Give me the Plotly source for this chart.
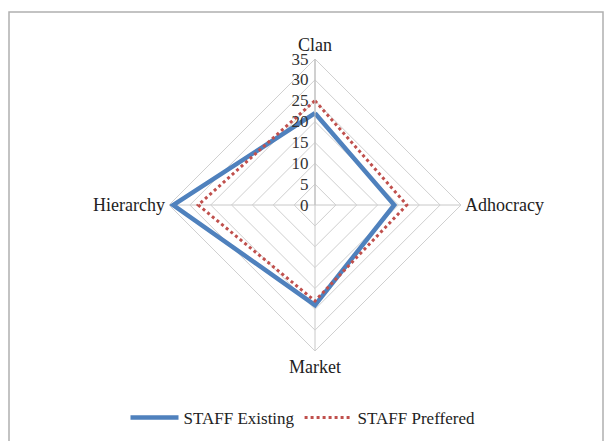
import plotly.graph_objects as go

# Competing Values Framework culture profile for staff
categories = ["Clan", "Adhocracy", "Market", "Hierarchy"]
existing = [22, 19, 24, 34]
preferred = [25, 22, 23, 28]
radial_ticks = [0, 5, 10, 15, 20, 25, 30, 35]

W, H = 606, 441
FONT = "Liberation Serif"


def closed(vals):
    return vals + vals[:1]


fig = go.Figure()
fig.add_trace(go.Scatterpolar(
    r=closed(existing), theta=closed(categories),
    mode="lines", name="STAFF Existing",
    line=dict(color="#4F81BD", width=4.5),
))
fig.add_trace(go.Scatterpolar(
    r=closed(preferred), theta=closed(categories),
    mode="lines", name="STAFF Preffered",
    line=dict(color="#C0504D", width=3, dash="dot"),
))

cx, cy, rad = 315, 205, 146
fig.update_layout(
    width=W, height=H,
    margin=dict(l=0, r=0, t=0, b=0),
    paper_bgcolor="white",
    font=dict(family=FONT, size=18, color="#222222"),
    polar=dict(
        domain=dict(x=[(cx - rad) / W, (cx + rad) / W],
                    y=[1 - (cy + rad) / H, 1 - (cy - rad) / H]),
        bgcolor="white",
        gridshape="linear",
        angularaxis=dict(
            rotation=90, direction="clockwise",
            categoryorder="array", categoryarray=categories,
            showline=True, linecolor="#d0d0d0", linewidth=1,
            gridcolor="#c8c8c8", gridwidth=1,
            ticks="", tickfont=dict(family=FONT, size=18, color="#222222"),
        ),
        radialaxis=dict(
            range=[0, 35], tickvals=radial_ticks,
            angle=90, tickangle=90, side="counterclockwise",
            showline=True, linecolor="#bdbdbd", linewidth=1,
            gridcolor="#cfcfcf", gridwidth=1,
            ticks="", tickfont=dict(family=FONT, size=17, color="#333333"),
        ),
    ),
    legend=dict(
        orientation="h", x=0.5, xanchor="center",
        y=1 - 418 / H, yanchor="middle",
        itemwidth=48,
        font=dict(family=FONT, size=17, color="#222222"),
        bgcolor="rgba(0,0,0,0)",
    ),
    shapes=[dict(
        type="rect", xref="paper", yref="paper",
        x0=9 / W, x1=603 / W, y0=-0.02, y1=1 - 12 / H,
        line=dict(color="#b0b0b0", width=1.5),
    )],
)

fig.write_html("out.html")
